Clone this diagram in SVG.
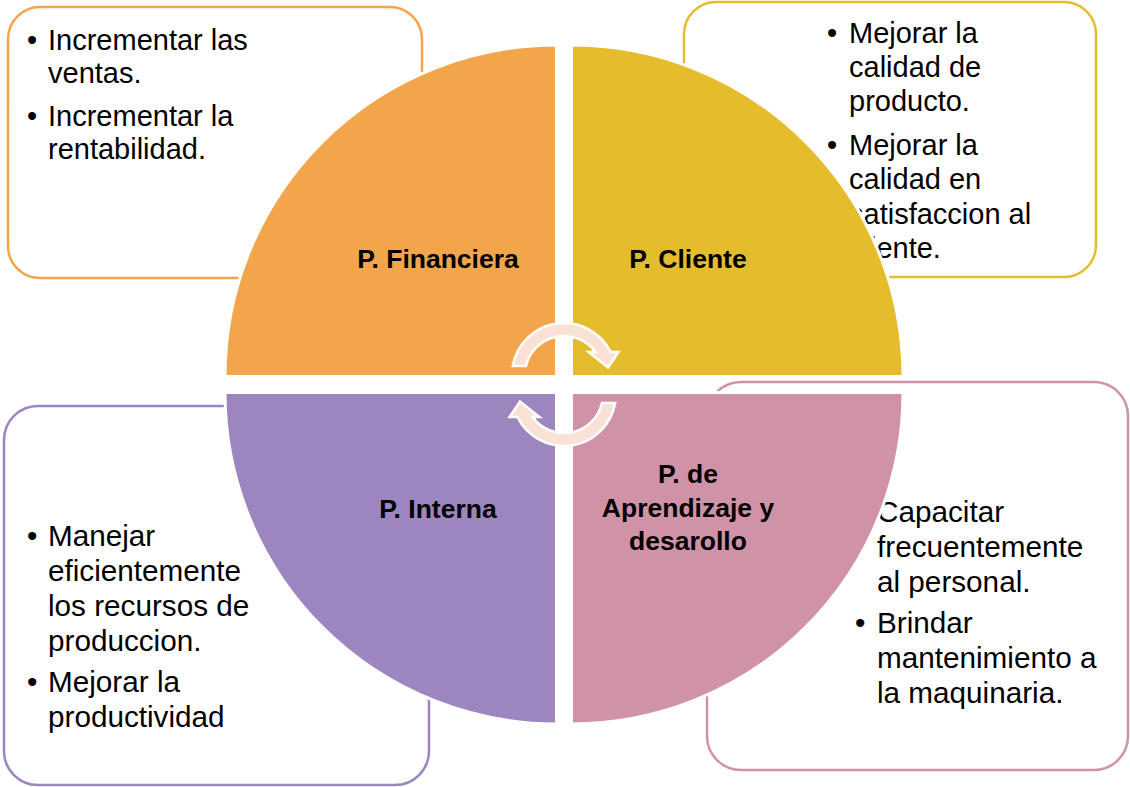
<svg xmlns="http://www.w3.org/2000/svg" width="1130" height="787" viewBox="0 0 1130 787">
<style>
.box{fill:#ffffff;stroke-width:2.5}
.body{font-family:"Liberation Sans",Arial,sans-serif;font-size:29px;fill:#000000}
.big{font-size:29.7px}
.lbl{font-family:"Liberation Sans",Arial,sans-serif;font-size:26.5px;font-weight:bold;fill:#000000;text-anchor:middle}
.quad{stroke:#ffffff;stroke-width:3}
.arrow{fill:#F9E2D5;stroke:#ffffff;stroke-width:2.5;stroke-linejoin:miter}
</style>
<defs>
<path id="arr" d="M512.8,366 A52,52 0 0 1 610.6,352 L618.5,352 L608,367.5 L588.5,352 L595.5,352 A39,39 0 0 0 526,366 Z"/>
</defs>
<rect width="1130" height="787" fill="#ffffff"/>

<g id="box-financiera">
<rect class="box" x="8" y="7" width="414" height="271" rx="32" stroke="#F2A54A"/>
<text class="body" x="27" y="50">•</text>
<text class="body" x="48" y="50">Incrementar las</text>
<text class="body" x="48" y="83">ventas.</text>
<text class="body" x="27" y="126">•</text>
<text class="body" x="48" y="126">Incrementar la</text>
<text class="body" x="48" y="159">rentabilidad.</text>
</g>

<g id="box-cliente">
<rect class="box" x="684" y="2" width="412" height="275" rx="32" stroke="#E5BC2B"/>
<text class="body" x="827" y="43">•</text>
<text class="body" x="849" y="43">Mejorar la</text>
<text class="body" x="849" y="77">calidad de</text>
<text class="body" x="849" y="111">producto.</text>
<text class="body" x="827" y="155">•</text>
<text class="body" x="849" y="155">Mejorar la</text>
<text class="body" x="849" y="189">calidad en</text>
<text class="body" x="849" y="224">satisfaccion al</text>
<text class="body" x="849" y="258">cliente.</text>
</g>

<g id="box-interna">
<rect class="box" x="4" y="406" width="425" height="379" rx="34" stroke="#9D85C0"/>
<text class="body big" x="27" y="546">•</text>
<text class="body big" x="48" y="546">Manejar</text>
<text class="body big" x="48" y="581">eficientemente</text>
<text class="body big" x="48" y="616">los recursos de</text>
<text class="body big" x="48" y="651">produccion.</text>
<text class="body big" x="27" y="692">•</text>
<text class="body big" x="48" y="692">Mejorar la</text>
<text class="body big" x="48" y="727">productividad</text>
</g>

<g id="box-aprendizaje">
<rect class="box" x="707" y="382" width="421" height="388" rx="34" stroke="#D092A7"/>
<text class="body big" x="855" y="522">•</text>
<text class="body big" x="877" y="522">Capacitar</text>
<text class="body big" x="877" y="557">frecuentemente</text>
<text class="body big" x="877" y="592">al personal.</text>
<text class="body big" x="855" y="633">•</text>
<text class="body big" x="877" y="633">Brindar</text>
<text class="body big" x="877" y="668">mantenimiento a</text>
<text class="body big" x="877" y="703">la maquinaria.</text>
</g>

<g id="quad-financiera">
<path class="quad" fill="#F2A54A" d="M556.5,376.5 L225,376.5 A331.5,331.5 0 0 1 556.5,45 Z"/>
<text class="lbl" x="438" y="268">P. Financiera</text>
</g>
<g id="quad-cliente">
<path class="quad" fill="#E5BC2B" d="M571.5,376.5 L571.5,45 A331.5,331.5 0 0 1 903,376.5 Z"/>
<text class="lbl" x="688" y="268">P. Cliente</text>
</g>
<g id="quad-interna">
<path class="quad" fill="#9D85C0" d="M556.5,392.5 L556.5,724 A331.5,331.5 0 0 1 225,392.5 Z"/>
<text class="lbl" x="438" y="518">P. Interna</text>
</g>
<g id="quad-aprendizaje">
<path class="quad" fill="#D092A7" d="M571.5,392.5 L903,392.5 A331.5,331.5 0 0 1 571.5,724 Z"/>
<text class="lbl" x="688" y="483">P. de</text>
<text class="lbl" x="688" y="517">Aprendizaje y</text>
<text class="lbl" x="688" y="550">desarollo</text>
</g>

<g id="connectors">
<use href="#arr" class="arrow"/>
<use href="#arr" class="arrow" transform="rotate(180 564 384.5)"/>
</g>
</svg>
